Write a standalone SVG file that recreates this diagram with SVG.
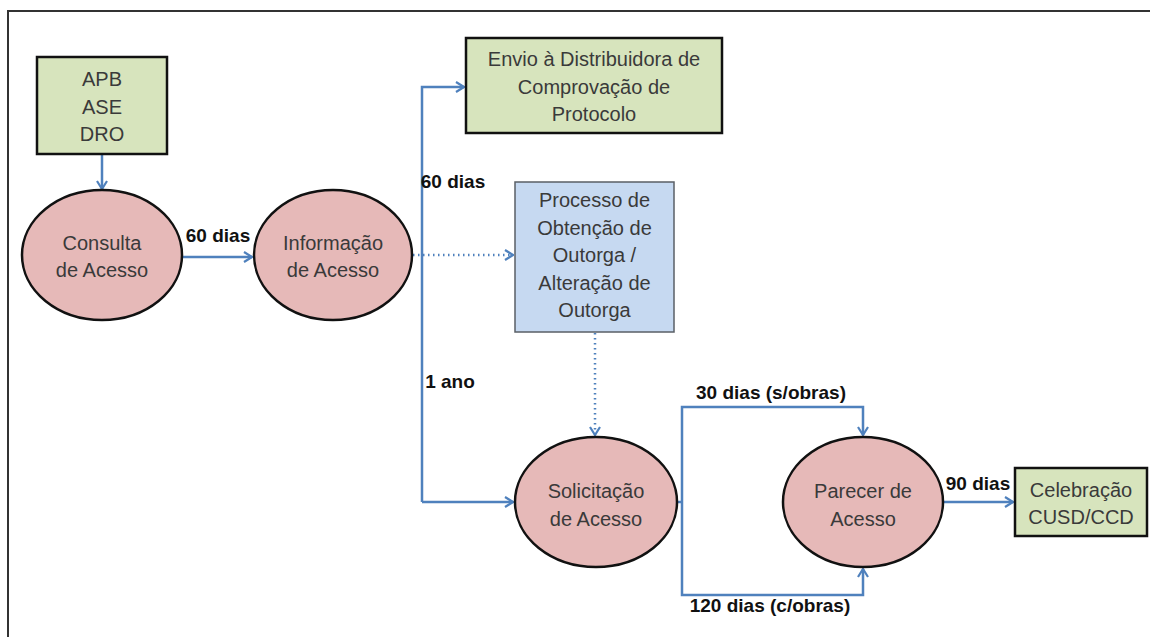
<svg xmlns="http://www.w3.org/2000/svg" width="1150" height="637" viewBox="0 0 1150 637">
<style>
.t{font-family:"Liberation Sans",Arial,sans-serif;font-size:20px;fill:#3a3a3a;text-anchor:middle}
.lb{font-family:"Liberation Sans",Arial,sans-serif;font-size:19px;font-weight:bold;fill:#111;text-anchor:middle}
.ell{fill:#E6B9B8;stroke:#111;stroke-width:2.5}
.gbox{fill:#D7E4BD;stroke:#111;stroke-width:2.5}
.bbox{fill:#C6D9F1;stroke:#5a5f66;stroke-width:1.5}
.c{fill:none;stroke:#4F81BD;stroke-width:2.5}
.d{fill:none;stroke:#4F81BD;stroke-width:2.5;stroke-dasharray:1.5 3.5}
</style>
<defs>
<marker id="ah" viewBox="0 0 10 12" refX="9" refY="6" markerWidth="10" markerHeight="12" markerUnits="userSpaceOnUse" orient="auto">
<path d="M1,1 L9,6 L1,11" fill="none" stroke="#4F81BD" stroke-width="2.2"/>
</marker>
</defs>
<rect width="1150" height="637" fill="#fff"/>
<path d="M8,637 V11 H1150" fill="none" stroke="#333" stroke-width="2"/>

<g id="connectors">
<path class="c" d="M102,154 V189" marker-end="url(#ah)"/>
<path class="c" d="M182,257 H252" marker-end="url(#ah)"/>
<path class="c" d="M422,502 V87 H464" marker-end="url(#ah)"/>
<path class="c" d="M422,502 H513" marker-end="url(#ah)"/>
<path class="d" d="M413,255 H513" marker-end="url(#ah)"/>
<path class="d" d="M595,333 V435" marker-end="url(#ah)"/>
<path class="c" d="M677,502 H682"/>
<path class="c" d="M682,502 V407 H863 V435" marker-end="url(#ah)"/>
<path class="c" d="M682,502 V595 H863 V569" marker-end="url(#ah)"/>
<path class="c" d="M943,502 H1013" marker-end="url(#ah)"/>
</g>

<g id="labels">
<text class="lb" x="218" y="242">60 dias</text>
<text class="lb" x="453" y="188">60 dias</text>
<text class="lb" x="450" y="388">1 ano</text>
<text class="lb" x="771" y="399">30 dias (s/obras)</text>
<text class="lb" x="770" y="612">120 dias (c/obras)</text>
<text class="lb" x="978" y="490">90 dias</text>
</g>

<g id="apb">
<rect class="gbox" x="37" y="57" width="130" height="97"/>
<text class="t" x="102" y="86">APB</text>
<text class="t" x="102" y="113.5">ASE</text>
<text class="t" x="102" y="141">DRO</text>
</g>

<g id="consulta">
<ellipse class="ell" cx="102" cy="255" rx="80" ry="65"/>
<text class="t" x="102" y="250">Consulta</text>
<text class="t" x="102" y="277">de Acesso</text>
</g>

<g id="informacao">
<ellipse class="ell" cx="333" cy="255" rx="79" ry="65"/>
<text class="t" x="333" y="250">Informação</text>
<text class="t" x="333" y="277">de Acesso</text>
</g>

<g id="envio">
<rect class="gbox" x="466" y="38" width="256" height="95"/>
<text class="t" x="594" y="66">Envio à Distribuidora de</text>
<text class="t" x="594" y="93.5">Comprovação de</text>
<text class="t" x="594" y="121">Protocolo</text>
</g>

<g id="processo">
<rect class="bbox" x="515" y="182" width="159" height="150"/>
<text class="t" x="594.5" y="207">Processo de</text>
<text class="t" x="594.5" y="234.5">Obtenção de</text>
<text class="t" x="594.5" y="262">Outorga /</text>
<text class="t" x="594.5" y="289.5">Alteração de</text>
<text class="t" x="594.5" y="317">Outorga</text>
</g>

<g id="solicitacao">
<ellipse class="ell" cx="596" cy="502" rx="81" ry="65"/>
<text class="t" x="596" y="498">Solicitação</text>
<text class="t" x="596" y="526">de Acesso</text>
</g>

<g id="parecer">
<ellipse class="ell" cx="863" cy="502" rx="80" ry="65"/>
<text class="t" x="863" y="498">Parecer de</text>
<text class="t" x="863" y="526">Acesso</text>
</g>

<g id="celebracao">
<rect class="gbox" x="1015" y="468" width="132" height="68"/>
<text class="t" x="1081" y="497">Celebração</text>
<text class="t" x="1081" y="524">CUSD/CCD</text>
</g>
</svg>
